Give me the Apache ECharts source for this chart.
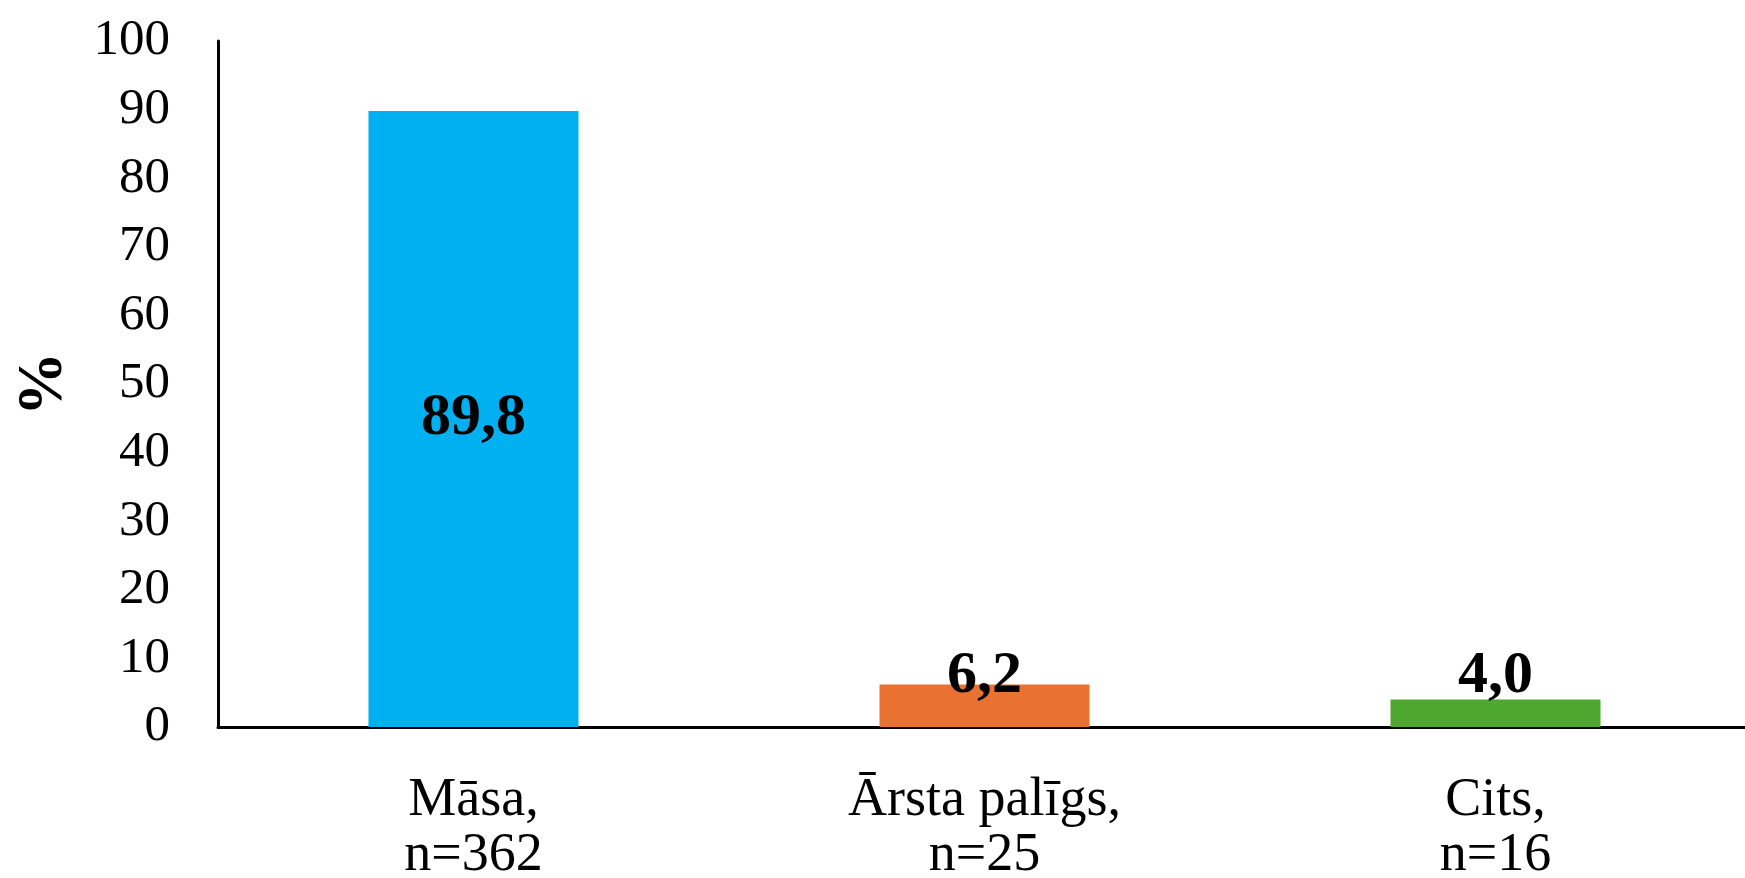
<!DOCTYPE html>
<html>
<head>
<meta charset="utf-8">
<script src="https://cdn.jsdelivr.net/npm/echarts@6/dist/echarts.min.js"></script>
<style>
  html, body { margin: 0; padding: 0; background: #fff; }
  #chart { width: 1745px; height: 878px; }
</style>
</head>
<body>
<div id="chart"></div>
<script>
var categories = ['Māsa,\nn=362', 'Ārsta palīgs,\nn=25', 'Cits,\nn=16'];
var values = [89.8, 6.2, 4.0];
var barColors = ['#00B0F0', '#E97132', '#4EA72E'];
// value labels of the two small bars sit at the same height in the original
var labelDistance = [0, -22, -7];

var font = '"Liberation Serif", "Times New Roman", serif';

var myChart = echarts.init(document.getElementById('chart'));
var option = {
    animation: false,
    grid: { left: 218, right: -6, top: 41, bottom: 151, outerBoundsMode: 'none' },
    xAxis: {
        type: 'category',
        data: categories,
        axisLine: { lineStyle: { color: '#000', width: 3 } },
        axisTick: { show: false },
        axisLabel: {
            color: '#000', fontFamily: font, fontSize: 54,
            lineHeight: 55, margin: 46
        }
    },
    yAxis: {
        type: 'value',
        min: 0, max: 100, interval: 10,
        name: '%',
        nameLocation: 'middle',
        nameGap: 142,
        nameTextStyle: { color: '#000', fontFamily: font, fontSize: 64, fontWeight: 'bold' },
        axisLine: { show: true, lineStyle: { color: '#000', width: 3 } },
        axisTick: { show: false },
        splitLine: { show: false },
        axisLabel: { color: '#000', fontFamily: font, fontSize: 51, margin: 48 }
    },
    series: [{
        type: 'bar',
        barWidth: 210,
        data: values.map(function (v, i) {
            return {
                value: v,
                itemStyle: { color: barColors[i] },
                label: i === 0 ? { position: 'inside' } : { position: 'top', distance: labelDistance[i] }
            };
        }),
        label: {
            show: true,
            color: '#000',
            fontFamily: font,
            fontSize: 60,
            fontWeight: 'bold',
            formatter: function (p) { return p.value.toFixed(1).replace('.', ','); }
        }
    }]
};
myChart.setOption(option);
</script>
</body>
</html>
